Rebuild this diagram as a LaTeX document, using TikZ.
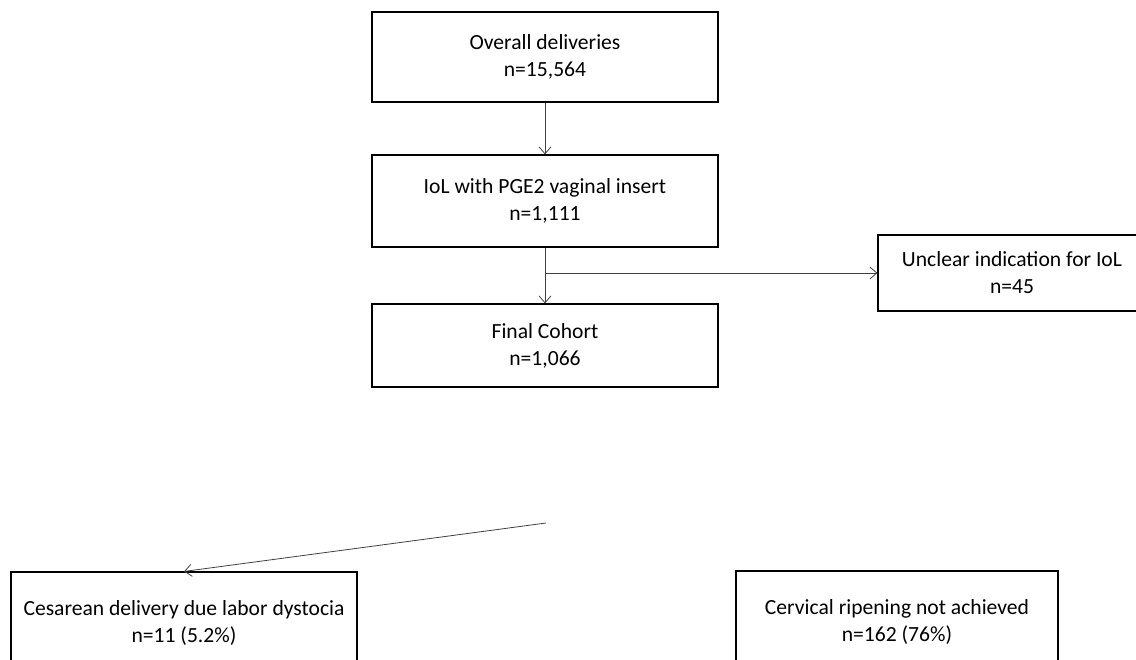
\documentclass[tikz,border=0pt]{standalone}
\usepackage{fontspec}
\setmainfont{Carlito}
\usetikzlibrary{arrows.meta}
\begin{document}
\begin{tikzpicture}[x=1pt,y=-1pt,
  box/.style={draw=black,line width=1.1pt,rectangle,inner sep=0pt,align=center,
    font=\fontsize{21.6}{27}\selectfont},
  conn/.style={draw=black!75,line width=0.8pt,-{Straight Barb[length=7pt,width=12pt]}}]
\useasboundingbox (0,0) rectangle (1136,660);
\clip (0,0) rectangle (1136,660);
\node[box,minimum width=346pt,minimum height=90pt] (b1) at (545,57) {Overall deliveries\\n=15,564};
\node[box,minimum width=346pt,minimum height=92pt] (b2) at (545,201) {IoL with PGE2 vaginal insert\\n=1,111};
\node[box,minimum width=346pt,minimum height=83pt] (b4) at (545,345.5) {Final Cohort\\n=1,066};
\node[box,minimum width=268pt,minimum height=76pt] (b3) at (1012,273) {Unclear indication for IoL\\n=45};
\node[box,minimum width=346pt,minimum height=102pt] (b5) at (184,623) {Cesarean delivery due labor dystocia\\n=11 (5.2\%)};
\node[box,minimum width=322pt,minimum height=102pt] (b6) at (897,622) {Cervical ripening not achieved\\n=162 (76\%)};
\coordinate (br) at (b2.south |- b3.west);
\coordinate (ds) at (546,523);
\draw[conn] (b1.south) -- (b2.north);
\draw[conn] (b2.south) -- (b4.north);
\draw[conn] (br) -- (b3.west);
\draw[conn] (ds) -- (b5.north);
\end{tikzpicture}
\end{document}
